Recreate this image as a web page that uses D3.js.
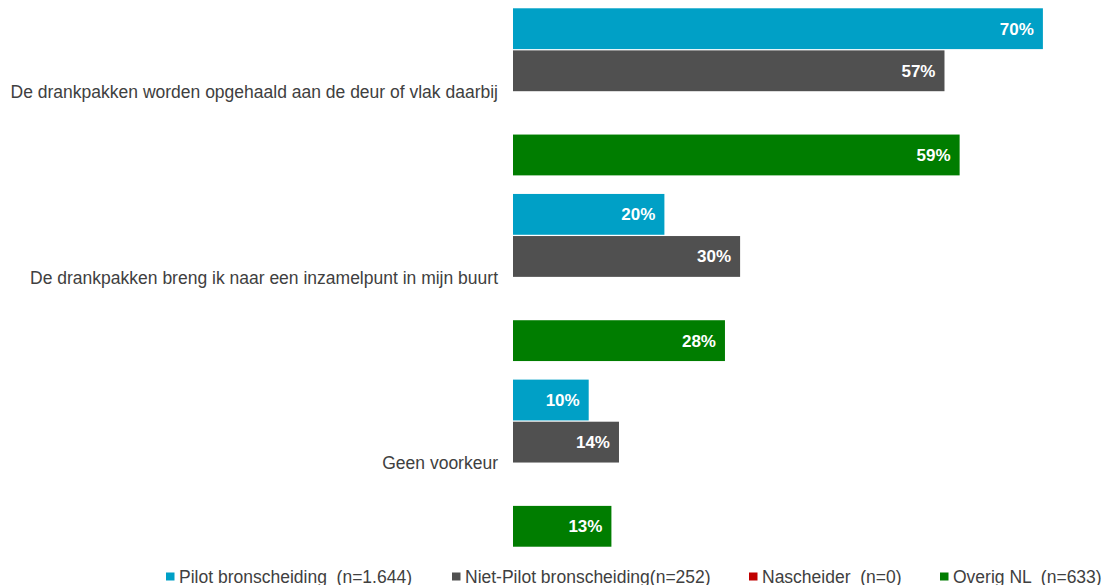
<!DOCTYPE html>
<html>
<head>
<meta charset="utf-8">
<script src="https://cdn.jsdelivr.net/npm/d3@7"></script>
<style>
  html, body { margin: 0; padding: 0; background: #fff; }
  svg { display: block; font-family: "Liberation Sans", Arial, sans-serif; }
  text { white-space: pre; }
</style>
</head>
<body>
<svg id="chart" width="1103" height="585"></svg>
<script>
const categories = [
  "De drankpakken worden opgehaald aan de deur of vlak daarbij",
  "De drankpakken breng ik naar een inzamelpunt in mijn buurt",
  "Geen voorkeur"
];
const seriesNames = [
  "Pilot bronscheiding  (n=1.644)",
  "Niet-Pilot bronscheiding(n=252)",
  "Nascheider  (n=0)",
  "Overig NL  (n=633)"
];
const seriesColors = ["#00A0C6", "#505050", "#C00000", "#007D00"];
const pilotValues = [70, 20, 10];
const nietPilotValues = [57, 30, 14];
const nascheiderValues = [0, 0, 0];
const overigValues = [59, 28, 13];

const allValues = [pilotValues, nietPilotValues, nascheiderValues, overigValues];

const svg = d3.select("#chart");

const x = d3.scaleLinear().domain([0, 100]).range([513, 1270]);
const y0 = d3.scaleBand().domain(categories).range([-1, 556]).paddingInner(0.1).paddingOuter(0.05);
const y1 = d3.scaleBand().domain(d3.range(seriesNames.length)).range([0, y0.bandwidth()]).paddingInner(0.03);

const data = [];
categories.forEach((c, ci) => {
  allValues.forEach((vals, si) => {
    data.push({ cat: c, s: si, v: vals[ci] });
  });
});

const g = svg.append("g");

g.selectAll("rect.bar")
  .data(data.filter(d => d.v > 0))
  .join("rect")
  .attr("class", "bar")
  .attr("x", x(0))
  .attr("y", d => y0(d.cat) + y1(d.s))
  .attr("width", d => x(d.v) - x(0))
  .attr("height", y1.bandwidth())
  .attr("fill", d => seriesColors[d.s]);

g.selectAll("text.val")
  .data(data.filter(d => d.v > 0))
  .join("text")
  .attr("class", "val")
  .attr("x", d => x(d.v) - 9)
  .attr("y", d => y0(d.cat) + y1(d.s) + y1.bandwidth() / 2)
  .attr("dy", "0.35em")
  .attr("text-anchor", "end")
  .attr("fill", "#fff")
  .attr("font-weight", "bold")
  .attr("font-size", 17)
  .text(d => d.v + "%");

// category labels
g.selectAll("text.cat")
  .data(categories)
  .join("text")
  .attr("class", "cat")
  .attr("x", 498)
  .attr("y", d => y0(d) + y0.bandwidth() / 2)
  .attr("dy", "0.35em")
  .attr("text-anchor", "end")
  .attr("fill", "#404040")
  .attr("font-size", 17.5)
  .text(d => d);

// legend
const legendX = d3.scalePoint().domain(d3.range(seriesNames.length)).range([0, 1]);
const legendPos = [166, 452, 749, 940];
const legend = svg.append("g");
seriesNames.forEach((name, i) => {
  const lx = legendPos[i];
  legend.append("rect")
    .attr("x", lx).attr("y", 572.5).attr("width", 8.5).attr("height", 8)
    .attr("fill", seriesColors[i]);
  const t = legend.append("text")
    .attr("x", lx + 13).attr("y", 582.5)
    .attr("fill", "#404040")
    .attr("font-size", 17.5)
    .text(name);
  const w = t.node().getComputedTextLength();
  const avail = 1102 - (lx + 13);
  if (w > avail) t.attr("textLength", avail).attr("lengthAdjust", "spacingAndGlyphs");
});
</script>
</body>
</html>
